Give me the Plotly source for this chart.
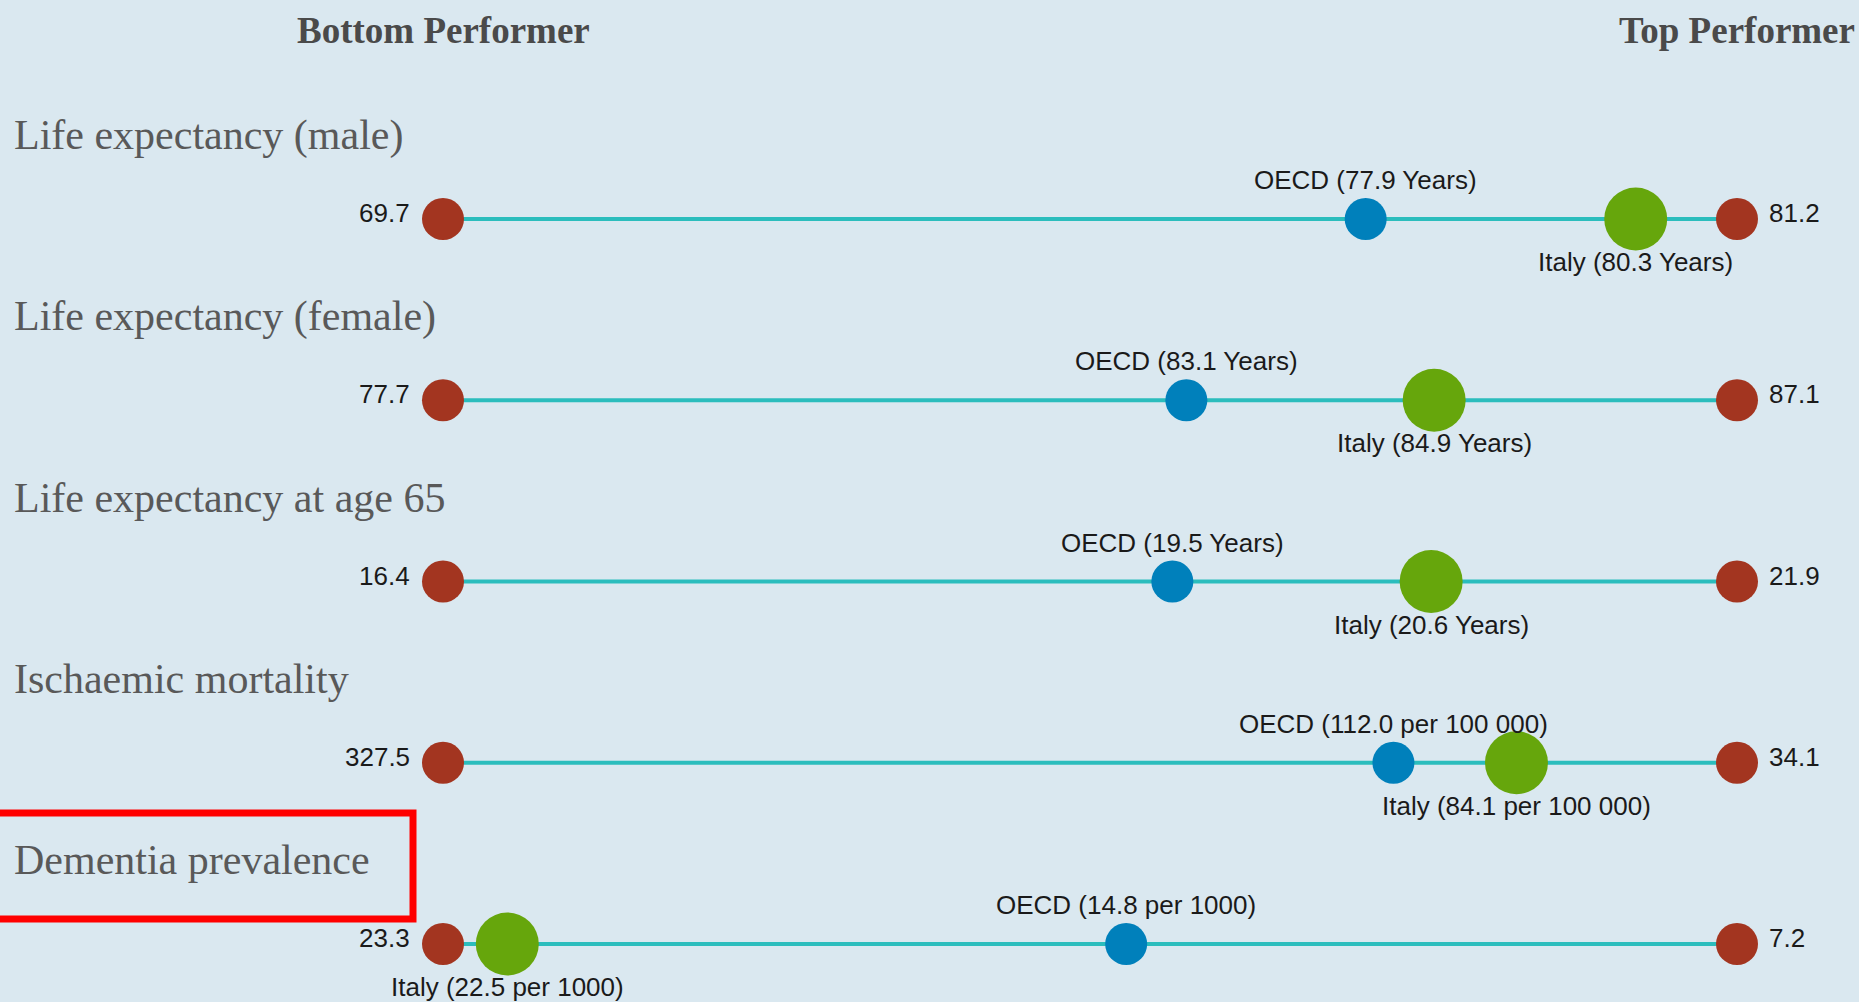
import plotly.graph_objects as go

# ---- data ----
categories = ["Life expectancy (male)", "Life expectancy (female)",
              "Life expectancy at age 65", "Ischaemic mortality",
              "Dementia prevalence"]
bottom = [69.7, 77.7, 16.4, 327.5, 23.3]
top = [81.2, 87.1, 21.9, 34.1, 7.2]
oecd = [77.9, 83.1, 19.5, 112.0, 14.8]
italy = [80.3, 84.9, 20.6, 84.1, 22.5]
units = ["Years", "Years", "Years", "per 100 000", "per 1000"]
header_left = "Bottom Performer"
header_right = "Top Performer"

# ---- styles ----
BG = "#dae8f0"
RED = "#a33520"
BLUE = "#0080bb"
GREEN = "#66a60c"
TEAL = "#2bbdbd"
W, H = 1859, 1002


def norm(v, lo, hi):
    return (v - lo) / (hi - lo)


rows = list(range(len(categories)))
fig = go.Figure()

# connecting lines
for i in rows:
    fig.add_trace(go.Scatter(x=[0, 1], y=[i, i], mode="lines",
                             line=dict(color=TEAL, width=4),
                             hoverinfo="skip"))

x_bottom = [norm(bottom[i], bottom[i], top[i]) for i in rows]
x_top = [norm(top[i], bottom[i], top[i]) for i in rows]
x_oecd = [norm(oecd[i], bottom[i], top[i]) for i in rows]
x_italy = [norm(italy[i], bottom[i], top[i]) for i in rows]

fig.add_trace(go.Scatter(x=x_bottom + x_top, y=rows + rows, mode="markers",
                         marker=dict(color=RED, size=42, line=dict(width=0))))
fig.add_trace(go.Scatter(x=x_oecd, y=rows, mode="markers",
                         marker=dict(color=BLUE, size=42, line=dict(width=0))))
fig.add_trace(go.Scatter(x=x_italy, y=rows, mode="markers",
                         marker=dict(color=GREEN, size=63, line=dict(width=0))))

lab_font = dict(family="Liberation Sans, Arial, sans-serif", size=26, color="#1a1a1a")
title_font = dict(family="Liberation Serif, Times New Roman, serif", size=42, color="#595959")
head_font = dict(family="Liberation Serif, Times New Roman, serif", size=37,
                 color="#4a4a4a", weight="bold")

ann = []
for i in rows:
    ann.append(dict(x=12 / W, xref="paper", y=i, yref="y", yshift=84,
                    text=categories[i], showarrow=False, xanchor="left",
                    yanchor="middle", font=title_font))
    ann.append(dict(x=x_bottom[i], y=i, xref="x", yref="y", xshift=-31, yshift=6,
                    text=f"{bottom[i]:.1f}", showarrow=False, xanchor="right",
                    yanchor="middle", font=lab_font))
    ann.append(dict(x=x_top[i], y=i, xref="x", yref="y", xshift=30, yshift=6,
                    text=f"{top[i]:.1f}", showarrow=False, xanchor="left",
                    yanchor="middle", font=lab_font))
    ann.append(dict(x=x_oecd[i], y=i, xref="x", yref="y", yshift=39,
                    text=f"OECD ({oecd[i]:.1f} {units[i]})", showarrow=False,
                    xanchor="center", yanchor="middle", font=lab_font))
    ann.append(dict(x=x_italy[i], y=i, xref="x", yref="y", yshift=-43,
                    text=f"Italy ({italy[i]:.1f} {units[i]})", showarrow=False,
                    xanchor="center", yanchor="middle", font=lab_font))

ann.append(dict(x=0, xref="x", y=1 - 30 / H, yref="paper", text=header_left,
                showarrow=False, xanchor="center", yanchor="middle", font=head_font))
ann.append(dict(x=1, xref="x", y=1 - 30 / H, yref="paper", text=header_right,
                showarrow=False, xanchor="center", yanchor="middle", font=head_font))

# highlight box around the last category title
last = rows[-1]
shapes = [dict(type="rect", xref="x", yref="y",
               xsizemode="pixel", ysizemode="pixel",
               xanchor=0, yanchor=last,
               x0=-460, x1=-30, y0=25, y1=131,
               line=dict(color="#ff0000", width=7), fillcolor="rgba(0,0,0,0)")]

# axis ranges: x 0->443px, 1->1737px ; rows 0->219px, step 181.25px
px_per_x = 1737 - 443
x_range = [-443 / px_per_x, (W - 443) / px_per_x]
px_per_row = 181.25
y_range = [(H - 219) / px_per_row, -219 / px_per_row]

fig.update_layout(
    width=W, height=H,
    margin=dict(l=0, r=0, t=0, b=0),
    paper_bgcolor=BG, plot_bgcolor=BG,
    showlegend=False,
    xaxis=dict(range=x_range, visible=False, fixedrange=True),
    yaxis=dict(range=y_range, visible=False, fixedrange=True),
    annotations=ann,
    shapes=shapes,
)

fig.write_html("out.html", config={"displayModeBar": False},
               post_script="document.body.style.margin='0';document.body.style.overflow='hidden';")
